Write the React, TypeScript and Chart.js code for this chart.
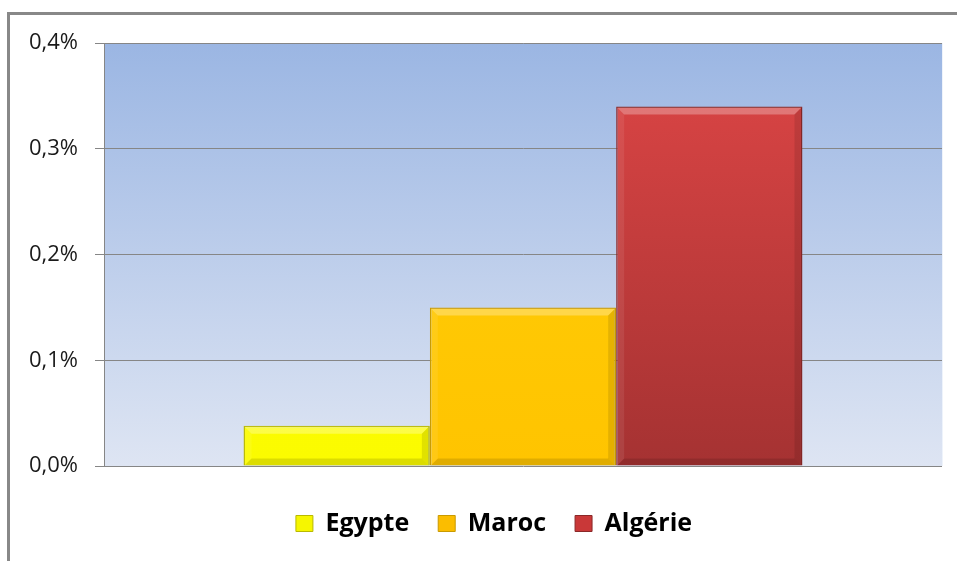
import { useEffect, useRef } from "react";
import { Chart, registerables } from "chart.js";
Chart.register(...registerables);

const categories = [""];
const seriesNames = ["Egypte", "Maroc", "Algérie"];
const egypteValues = [0.038];
const marocValues = [0.15];
const algerieValues = [0.34];
const yTickValues = [0, 0.1, 0.2, 0.3, 0.4];

const topColors = ["#ffff00", "#ffcf0a", "#de4646"];
const bottomColors = ["#fbfb00", "#ffc400", "#a53232"];
const borderColors = ["#b9b900", "#c99a00", "#8a2828"];
const legendFill = ["#f6f600", "#fbbd00", "#c93838"];

const fmt = (v: number) => v.toFixed(1).replace(".", ",") + "%";

const bgPlugin = {
  id: "plotBg",
  beforeDraw(chart: any) {
    const { ctx, chartArea } = chart;
    if (!chartArea) return;
    const g = ctx.createLinearGradient(0, chartArea.top, 0, chartArea.bottom);
    g.addColorStop(0, "#9bb6e3");
    g.addColorStop(1, "#dee5f3");
    ctx.save();
    ctx.fillStyle = g;
    ctx.fillRect(chartArea.left, chartArea.top, chartArea.right - chartArea.left, chartArea.bottom - chartArea.top);
    ctx.strokeStyle = "#eef3fb";
    ctx.lineWidth = 1;
    ctx.beginPath();
    ctx.moveTo(chartArea.right + 0.5, chartArea.top);
    ctx.lineTo(chartArea.right + 0.5, chartArea.bottom);
    ctx.stroke();
    ctx.restore();
  },
};

const legendShiftPlugin = {
  id: "legendShift",
  afterLayout(chart: any) {
    const lg = chart.legend;
    if (!lg) return;
    lg.left += 23;
    lg.right += 23;
    if (lg.legendHitBoxes) lg.legendHitBoxes.forEach((h: any) => (h.left += 23));
  },
};

const bevelPlugin = {
  id: "bevel",
  afterDatasetsDraw(chart: any) {
    const ctx = chart.ctx;
    chart.data.datasets.forEach((_: any, di: number) => {
      const meta = chart.getDatasetMeta(di);
      meta.data.forEach((el: any) => {
        const { x, y, base, width } = el.getProps(["x", "y", "base", "width"], true);
        const l = x - width / 2 + 1;
        const r = x + width / 2 - 1;
        const t = y + 1;
        const bt = base;
        const b = Math.min(7, (bt - t) / 2);
        const poly = (pts: number[][], fill: string) => {
          ctx.beginPath();
          ctx.moveTo(pts[0][0], pts[0][1]);
          for (let i = 1; i < pts.length; i++) ctx.lineTo(pts[i][0], pts[i][1]);
          ctx.closePath();
          ctx.fillStyle = fill;
          ctx.fill();
        };
        ctx.save();
        poly([[l, t], [r, t], [r - b, t + b], [l + b, t + b]], "rgba(255,255,255,0.28)");
        poly([[l, t], [l + b, t + b], [l + b, bt - b], [l, bt]], "rgba(255,255,255,0.08)");
        poly([[r, t], [r, bt], [r - b, bt - b], [r - b, t + b]], "rgba(0,0,0,0.10)");
        poly([[l, bt], [r, bt], [r - b, bt - b], [l + b, bt - b]], "rgba(0,0,0,0.12)");
        ctx.restore();
      });
    });
  },
};

function makeFill(i: number) {
  return (context: any) => {
    const chart = context.chart;
    const area = chart.chartArea;
    if (!area) return topColors[i];
    const g = chart.ctx.createLinearGradient(0, area.top, 0, area.bottom);
    g.addColorStop(0, topColors[i]);
    g.addColorStop(1, bottomColors[i]);
    return g;
  };
}

export default function App() {
  const ref = useRef<HTMLCanvasElement | null>(null);
  useEffect(() => {
    if (!ref.current) return;
    const values = [egypteValues, marocValues, algerieValues];
    const chart = new Chart(ref.current, {
      type: "bar",
      data: {
        labels: categories,
        datasets: seriesNames.map((name, i) => ({
          label: name,
          data: values[i],
          backgroundColor: makeFill(i),
          borderColor: borderColors[i],
          borderWidth: 1.5,
          categoryPercentage: 0.667,
          barPercentage: 1.0,
        })),
      },
      options: {
        animation: false,
        responsive: false,
        layout: { padding: { top: 43, right: 15, bottom: 15, left: 0 } },
        scales: {
          x: {
            display: true,
            grid: { display: false },
            ticks: { display: false },
            border: { display: false },
            afterFit: (s: any) => {
              s.height = 16;
            },
          },
          y: {
            min: 0,
            max: 0.4,
            afterBuildTicks: (s: any) => {
              s.ticks = yTickValues.map((v) => ({ value: v }));
            },
            afterFit: (s: any) => {
              s.width = 104;
            },
            ticks: {
              callback: (v: any) => fmt(Number(v)),
              color: "#1a1a1a",
              font: { family: "Open Sans", size: 22 },
              padding: 17,
            },
            grid: { color: "#868686", lineWidth: 1, tickLength: 9, drawTicks: true },
            border: { color: "#868686", width: 1 },
          },
        },
        plugins: {
          tooltip: { enabled: false },
          legend: {
            position: "bottom",
            labels: {
              boxWidth: 17,
              boxHeight: 16,
              padding: 29,
              color: "#000",
              font: { family: "Open Sans", size: 25, weight: "bold" },
              generateLabels: () =>
                seriesNames.map((n, i) => ({
                  text: n,
                  fillStyle: legendFill[i],
                  strokeStyle: borderColors[i],
                  lineWidth: 1,
                  datasetIndex: i,
                  hidden: false,
                })),
            },
          },
        },
      },
      plugins: [bgPlugin, bevelPlugin, legendShiftPlugin],
    } as any);
    return () => chart.destroy();
  }, []);

  return (
    <div style={{ position: "fixed", left: 0, top: 0, width: 957, height: 561, overflow: "hidden", background: "#fff" }}>
      <div
        style={{
          position: "absolute",
          left: 7,
          top: 12,
          width: 1100,
          height: 700,
          border: "3px solid #888",
          boxSizing: "border-box",
        }}
      />
      <canvas ref={ref} width={957} height={561} style={{ position: "absolute", left: 0, top: 0, width: 957, height: 561 }} />
    </div>
  );
}
